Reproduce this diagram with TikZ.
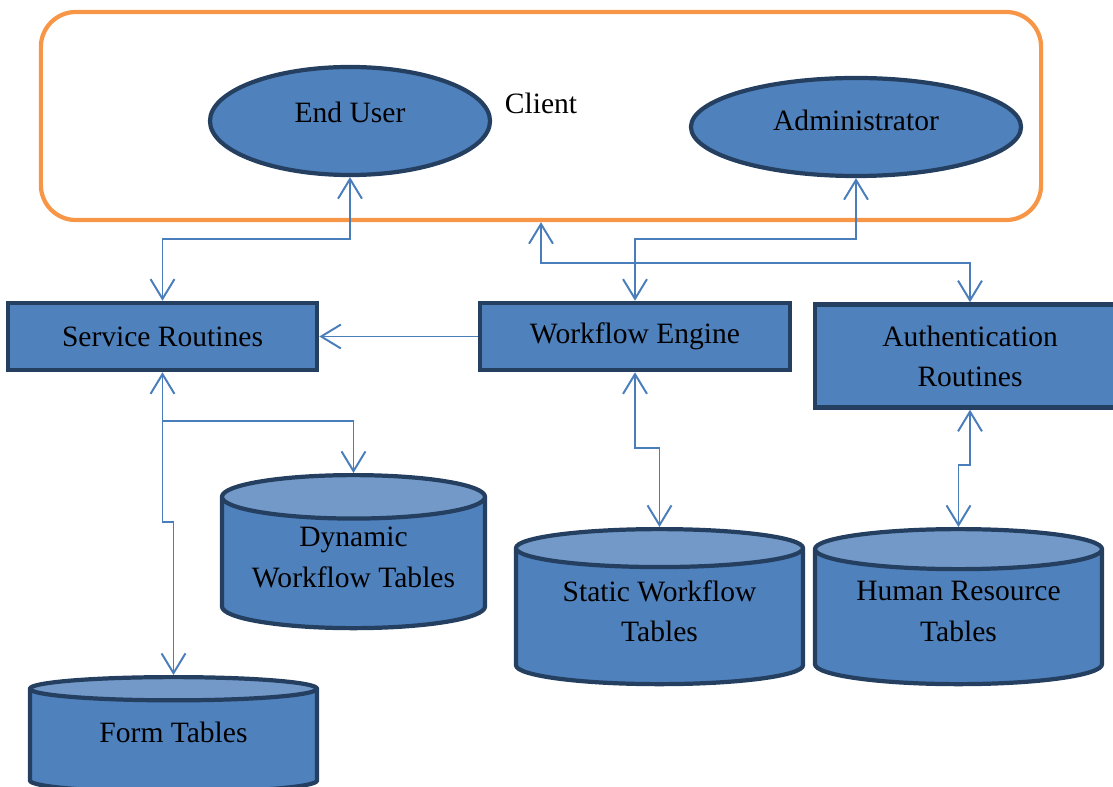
\documentclass[tikz,border=0pt]{standalone}
\usepackage{fontspec}
\setmainfont{Liberation Serif}
\usetikzlibrary{shapes.geometric,arrows.meta}
\definecolor{boxblue}{HTML}{4F81BD}
\definecolor{boxedge}{HTML}{243F60}
\definecolor{capblue}{HTML}{7399C9}
\definecolor{linkblue}{HTML}{4A7EBB}
\definecolor{clientorange}{HTML}{F79646}
\tikzset{
  box/.style={rectangle, draw=boxedge, fill=boxblue, line width=3.2pt, inner sep=0pt, align=center},
  actor/.style={ellipse, draw=boxedge, fill=boxblue, line width=3pt, inner sep=0pt},
  tables/.style={cylinder, shape border rotate=90, draw=boxedge, line width=3pt,
    cylinder uses custom fill, cylinder body fill=boxblue, cylinder end fill=capblue,
    inner sep=0pt, align=center, anchor=north, text depth=9pt},
  link/.style={linkblue, line width=1.4pt, >={Straight Barb[length=14pt,width=17pt]}}
}
\begin{document}
\begin{tikzpicture}[x=0.025cm, y=-0.025cm, font=\fontsize{21}{28.5}\selectfont]
\clip (0,0) rectangle (1113,787);
\node [draw=clientorange, line width=3pt, rounded corners=0.875cm, minimum width=25cm, minimum height=5.2cm] (client) at (541,116) {};
\node [] (clientlbl) at (541,103) {Client};
\node [actor, text depth=13pt, minimum width=7cm, minimum height=2.7cm] (enduser) at (350,121) {End User};
\node [actor, text depth=10pt, minimum width=8.25cm, minimum height=2.45cm] (admin) at (856,127) {Administrator};

\node [box, minimum width=7.725cm, minimum height=1.675cm] (serv) at (162.5,336.5) {Service Routines};
\node [box, minimum width=7.75cm, minimum height=1.675cm] (engine) at (635,336.5) {Workflow Engine};
\node [box, minimum width=7.75cm, minimum height=2.575cm] (auth) at (970,356) {Authentication\\Routines};

\node [tables, aspect=0.214, minimum width=6.575cm, minimum height=3.825cm] (dyn) at (353.5,473) {Dynamic\\Workflow Tables};
\node [tables, aspect=0.196, minimum width=7.175cm, minimum height=3.875cm] (static) at (659.5,527) {Static Workflow\\Tables};
\node [tables, aspect=0.196, minimum width=7.175cm, minimum height=3.875cm] (hr) at (958.5,527) {Human Resource\\Tables};
\node [tables, aspect=0.157, text depth=13pt, minimum width=7.175cm, minimum height=2.875cm] (form) at (173.5,675) {Form Tables};

\coordinate (upper) at (0,239);
\coordinate (lower) at (0,263);
\draw [link, <->] (enduser.south) -- (enduser.south |- upper) -| (serv.north);
\draw [link, <->] (admin.south) -- (admin.south |- upper) -| (engine.north);
\draw [link, <->] (client.south) -- (client.south |- lower) -| (auth.north);
\draw [link, ->] (engine.west) -- (serv.east);

\draw [link, <->] (serv.south) -- (serv.south |- 0,522) -| (form.north);
\draw [link, ->] (serv.south |- 0,421) -| (dyn.north);
\draw [link, <->] (engine.south) -- (engine.south |- 0,448) -| (static.north);
\draw [link, <->] (auth.south) -- (auth.south |- 0,465) -| (hr.north);
\end{tikzpicture}
\end{document}
